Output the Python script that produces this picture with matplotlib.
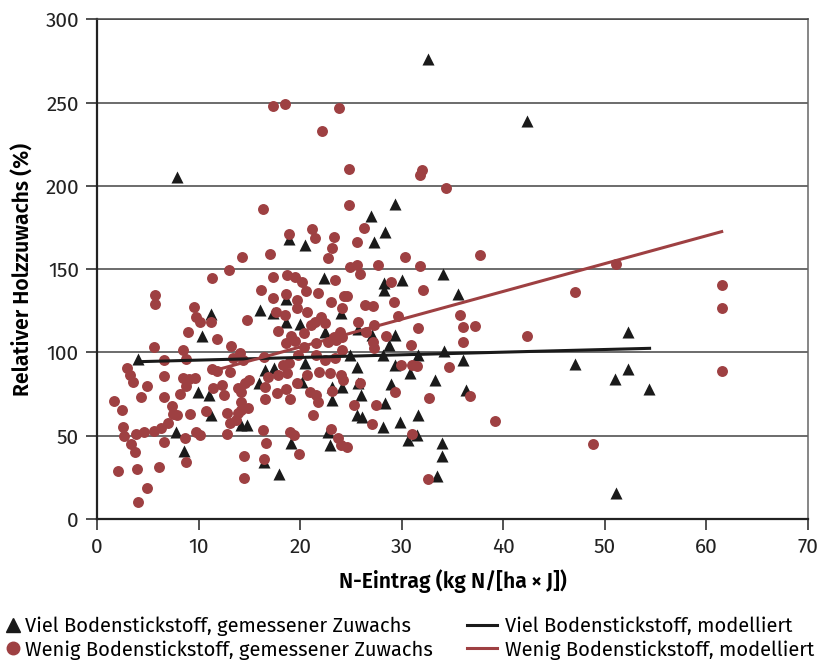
import matplotlib
matplotlib.use('Agg')
import matplotlib.pyplot as plt
from matplotlib.lines import Line2D

plt.rcParams['font.family'] = ['Fira Sans', 'PT Sans', 'DejaVu Sans']

RED = '#9e4042'
BLACK = '#1a1a1a'

# Viel Bodenstickstoff, gemessener Zuwachs (triangles)
viel_x = [4.04, 11.2, 10.35, 9.95, 11.04, 11.27, 7.82, 8.57, 7.92,
          18.9, 20.46, 22.36, 18.59, 16.03, 17.34, 18.59, 19.97, 24.0, 22.43,
          20.46, 16.52, 17.4, 15.93, 20.2, 23.1, 23.1, 14.16, 14.72, 19.08, 22.89, 16.45, 17.93, 22.7,
          29.3, 26.97, 28.4, 27.3, 34.1, 28.28, 28.3, 30.07, 35.5, 25.7, 27.1, 29.3,
          28.77, 24.9, 28.2, 31.56, 34.2, 36.07, 25.64, 29.3, 30.8, 24.08, 25.7, 28.93, 33.27, 36.3,
          25.98, 28.4, 25.55, 26.1, 28.2, 29.8, 31.56, 30.65, 31.47, 33.93, 33.93, 33.44,
          32.55, 42.33, 47.1, 52.3, 52.3, 51.03, 54.36, 51.1]
viel_y = [96.1, 123.4, 109.8, 76.1, 74.3, 62.5, 52.1, 40.7, 205.6,
          168, 164.6, 144.6, 131.9, 125.5, 123.9, 118.5, 116.9, 123.9, 112.5,
          93.5, 89.5, 90.5, 81.5, 82.5, 79.5, 71.4, 56.5, 56.5, 45.8, 44.4, 34.5, 27.0, 52.5,
          189.0, 182, 172.6, 166.6, 147.1, 141.9, 137.5, 143.8, 135.2, 113.9, 110.5, 110.5,
          104.5, 98.5, 98.5, 98.5, 101.1, 95.5, 91.5, 92.5, 87.9, 79.1, 81.5, 81.1, 83.5, 77.5,
          74.4, 69.9, 62.5, 61.1, 55.5, 58.5, 62.5, 47.5, 50.5, 45.4, 37.8, 25.8,
          276.0, 239.0, 93.2, 112.3, 90.0, 83.8, 77.9, 15.7]

# Wenig Bodenstickstoff, gemessener Zuwachs (circles)
wenig_x = [11.3, 5.7, 5.75, 9.5, 9.7, 10.1, 11.2, 8.97, 11.8, 5.6, 8.44, 8.8, 6.57, 2.93, 3.22,
           3.55, 6.57, 4.96, 8.48, 9.07, 9.66, 8.8, 11.3, 11.8, 11.4, 4.37, 6.6, 8.18, 1.65, 2.47,
           7.39, 7.52, 7.9, 9.13, 10.7, 7.0, 2.57, 2.66, 3.88, 4.6, 5.62, 6.34, 9.72, 10.15, 3.35,
           3.78, 6.6, 8.64, 8.77, 2.07, 3.98, 6.08, 4.96, 4.04,
           17.34, 18.46, 23.84, 22.17, 16.3, 18.9, 21.2, 21.5, 23.35, 23.1, 22.7, 14.23, 17.08, 12.97,
           17.28, 18.69, 19.48, 20.2, 23.42, 16.13, 18.59, 20.6, 21.78, 17.28, 19.7, 22.99, 24.3,
           17.67, 19.65, 20.69, 14.72, 18.49, 21.45, 22.1, 22.43, 21.1, 17.77, 19.08, 20.39, 23.9, 23.3,
           13.24, 18.59, 19.48, 20.4, 21.6, 22.7, 23.55, 14.1, 13.35, 14.35, 16.45, 18.3, 18.88, 19.8,
           21.6, 22.43, 23.4, 13.07, 16.8, 17.8, 18.66, 20.7, 21.84, 22.93, 15.0, 12.26, 13.86, 14.55,
           16.52, 19.65, 23.1, 12.5, 14.19, 17.73, 18.59, 21.0, 21.6, 16.52, 18.99, 21.8, 14.19, 14.19,
           14.86, 12.75, 13.9, 13.73, 13.07, 21.28, 12.75, 16.36, 18.99, 19.41, 23.03, 23.74, 24.07,
           16.6, 14.48, 16.45, 19.9, 14.5,
           24.76, 31.8, 32.0, 34.33, 24.84, 26.3, 25.55, 30.3, 24.9, 25.64, 25.88, 27.7, 31.8, 28.93,
           32.1, 24.57, 24.14, 26.38, 27.14, 29.26, 29.66, 35.7, 36.07, 25.7, 27.3, 31.6, 26.5, 28.5, 24.08,
           27.2, 27.3, 30.9, 36.07, 24.14, 29.92, 30.98, 31.47, 34.65, 24.0, 24.2, 25.88, 29.3, 32.7,
           25.3, 27.5, 27.1, 24.57, 30.98, 32.55,
           37.7, 51.1, 47.1, 61.5, 61.5, 61.5, 42.33, 37.24, 36.68, 39.18, 48.8]
wenig_y = [144.5, 134.7, 128.9, 127.1, 121.1, 118.1, 118.3, 112.1, 107.9, 103.1, 101.3, 96.1, 95.5, 90.5, 86.5,
           82.5, 85.9, 79.9, 84.9, 84.1, 84.5, 79.9, 89.9, 89.1, 78.9, 73.5, 73.5, 74.8, 71.0, 65.4,
           68.1, 63.1, 62.7, 62.9, 65.0, 57.8, 55.3, 50.1, 51.1, 52.3, 52.9, 54.7, 52.3, 50.5, 45.2,
           40.2, 46.0, 48.8, 34.2, 29.0, 30.2, 31.4, 18.6, 10.2,
           248.0, 249.1, 247.1, 233.1, 186.2, 171.2, 174.4, 169, 169.5, 163, 157, 157.6, 159.2, 149.4,
           145.2, 146.6, 145.6, 142.6, 143.6, 137.5, 135.1, 137.1, 135.5, 132.9, 131.3, 130.3, 133.9,
           124.5, 126.9, 124.5, 119.5, 122.4, 118.5, 121.4, 117.8, 116.5, 113.1, 110.1, 111.5, 112.5, 109.2,
           103.9, 105.9, 107.1, 103.5, 105.5, 106.5, 107.5, 99.9, 96.4, 95.5, 97.1, 92.5, 93.5, 98.5,
           98.5, 95.5, 96.5, 88.5, 85.5, 86.5, 87.5, 86.5, 88.5, 87.5, 83.5, 80.5, 78.5, 81.5,
           79.5, 81.5, 77.1, 74.4, 76.4, 75.5, 77.9, 76.4, 74.4, 72, 72, 70.4, 70.4, 65.5,
           66.5, 63.9, 63.5, 59.5, 57.5, 62.5, 51.3, 53.5, 52, 50.5, 53.9, 48.4, 44.4,
           45.4, 37.8, 36.3, 39.1, 24.5,
           210.2, 206.6, 209.5, 198.6, 188.6, 175, 166.5, 157.6, 151.1, 152.5, 146.9, 152.3, 151.7, 142.4,
           137.5, 134.0, 126.6, 128.6, 128.0, 130.1, 121.9, 122.5, 115.5, 118.5, 116.5, 114.5, 112.5, 110, 109.5,
           106.5, 102.5, 104.5, 106.3, 101.5, 92.5, 92.5, 91.9, 91.5, 86.5, 83.5, 81.9, 76.4, 72.4,
           68.4, 68.4, 57.1, 43.5, 51.1, 23.8,
           158.7, 153.0, 136.5, 140.3, 126.5, 88.9, 110.2, 116, 73.6, 58.8, 45.2]

# modelled lines (end points)
viel_mod_x = [4.2, 54.4]
viel_mod_y = [94.5, 102.5]
wenig_mod_x = [11.8, 61.5]
wenig_mod_y = [89.6, 172.6]

xticks = [0, 10, 20, 30, 40, 50, 60, 70]
yticks = [0, 50, 100, 150, 200, 250, 300]

fig = plt.figure(figsize=(8.2, 6.63), dpi=100)
ax = fig.add_axes([0.1183, 0.2172, 0.8671, 0.7534])

for y in yticks[1:]:
    ax.axhline(y, color='#444444', lw=1.1, zorder=0)

ax.scatter(viel_x, viel_y, marker='^', s=75, color=BLACK, linewidths=0, zorder=2)
ax.scatter(wenig_x, wenig_y, marker='o', s=62, color=RED, linewidths=0, zorder=3)
ax.plot(viel_mod_x, viel_mod_y, color=BLACK, lw=2.2, zorder=4)
ax.plot(wenig_mod_x, wenig_mod_y, color=RED, lw=2.2, zorder=4)

ax.set_xlim(0, 70)
ax.set_ylim(0, 300)
ax.set_xticks(xticks)
ax.set_yticks(yticks)
ax.tick_params(direction='out', length=8, width=1.1, labelsize=15, colors='#222222', pad=5)
for s in ['left', 'bottom']:
    ax.spines[s].set_linewidth(1.6)
    ax.spines[s].set_color('#222222')
ax.spines['top'].set_linewidth(1.1)
ax.spines['top'].set_color('#444444')
ax.spines['right'].set_linewidth(1.1)
ax.spines['right'].set_color('#666666')

ax.set_xlabel('N-Eintrag (kg N/[ha\u2009\u00d7\u2009J])', fontsize=15.3, fontweight=600, labelpad=9)
ax.set_ylabel('Relativer Holzzuwachs (%)', fontsize=15.3, fontweight=600, labelpad=8)

h1 = Line2D([], [], marker='^', ls='none', color=BLACK, markersize=10)
h2 = Line2D([], [], marker='o', ls='none', color=RED, markersize=9)
h3 = Line2D([], [], color=BLACK, lw=2.2)
h4 = Line2D([], [], color=RED, lw=2.2)

leg1 = fig.legend([h1, h2], ['Viel Bodenstickstoff, gemessener Zuwachs',
                             'Wenig Bodenstickstoff, gemessener Zuwachs'],
                  loc='center left', bbox_to_anchor=(6.5 / 820, 0.0377), frameon=False,
                  fontsize=14.5, handlelength=0.65, handletextpad=0.27, labelspacing=0.2,
                  borderpad=0, borderaxespad=0)
leg2 = fig.legend([h3, h4], ['Viel Bodenstickstoff, modelliert',
                             'Wenig Bodenstickstoff, modelliert'],
                  loc='center left', bbox_to_anchor=(467 / 820, 0.0377), frameon=False,
                  fontsize=14.5, handlelength=1.49, handletextpad=0.4, labelspacing=0.2,
                  borderpad=0, borderaxespad=0)

plt.savefig('out.png', dpi=100)
